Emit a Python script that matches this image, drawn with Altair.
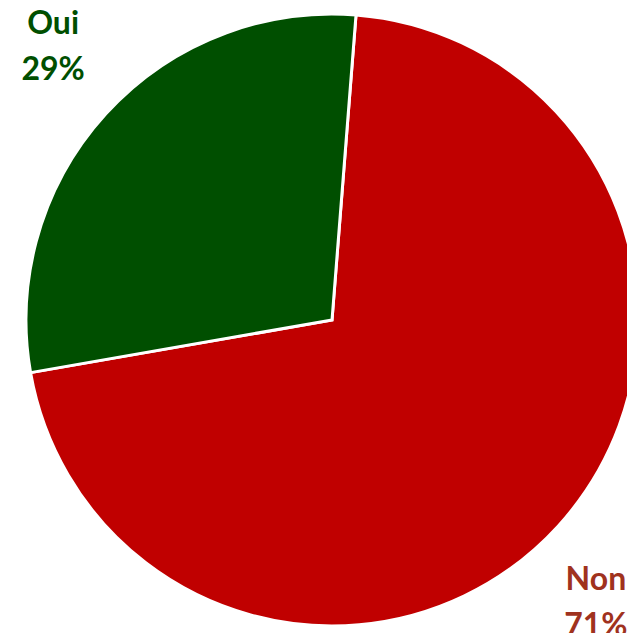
import altair as alt
import pandas as pd
import math

categories = ["Non", "Oui"]
values = [71, 29]
labels = ["Non\n71%", "Oui\n29%"]
slice_colors = ["#C00000", "#004F00"]
label_colors = ["#A0321E", "#004F00"]

df = pd.DataFrame({"cat": categories, "val": values, "label": labels, "order": [0, 1]})

offset = math.radians(4.5)
label_offset = math.radians(7.9)

arcs = alt.Chart(df).mark_arc(stroke="white", strokeWidth=3).encode(
    theta=alt.Theta("val:Q", stack=True, scale=alt.Scale(range=[offset, offset + 2 * math.pi])),
    order=alt.Order("order:Q"),
    x=alt.value(324),
    y=alt.value(312),
    radius=alt.value(306),
    color=alt.Color("cat:N", scale=alt.Scale(domain=categories, range=slice_colors), legend=None),
)

text = alt.Chart(df).mark_text(
    font="Lato", fontWeight="bold", fontSize=32, lineBreak="\n", lineHeight=46,
    align="center", baseline="middle", dx=-7.5, dy=-18,
).encode(
    theta=alt.Theta("val:Q", stack=True,
                    scale=alt.Scale(range=[label_offset, label_offset + 2 * math.pi])),
    order=alt.Order("order:Q"),
    x=alt.value(324),
    y=alt.value(312),
    radius=alt.value(388.6),
    text="label:N",
    color=alt.Color("cat:N", scale=alt.Scale(domain=categories, range=label_colors), legend=None),
)

chart = alt.layer(arcs, text).resolve_scale(color="independent", theta="independent").properties(
    width=619, height=625, padding=0, autosize=alt.AutoSizeParams(type="none")
).configure_view(stroke=None)

chart.save("out.html", embed_options={"renderer": "svg", "actions": False})
